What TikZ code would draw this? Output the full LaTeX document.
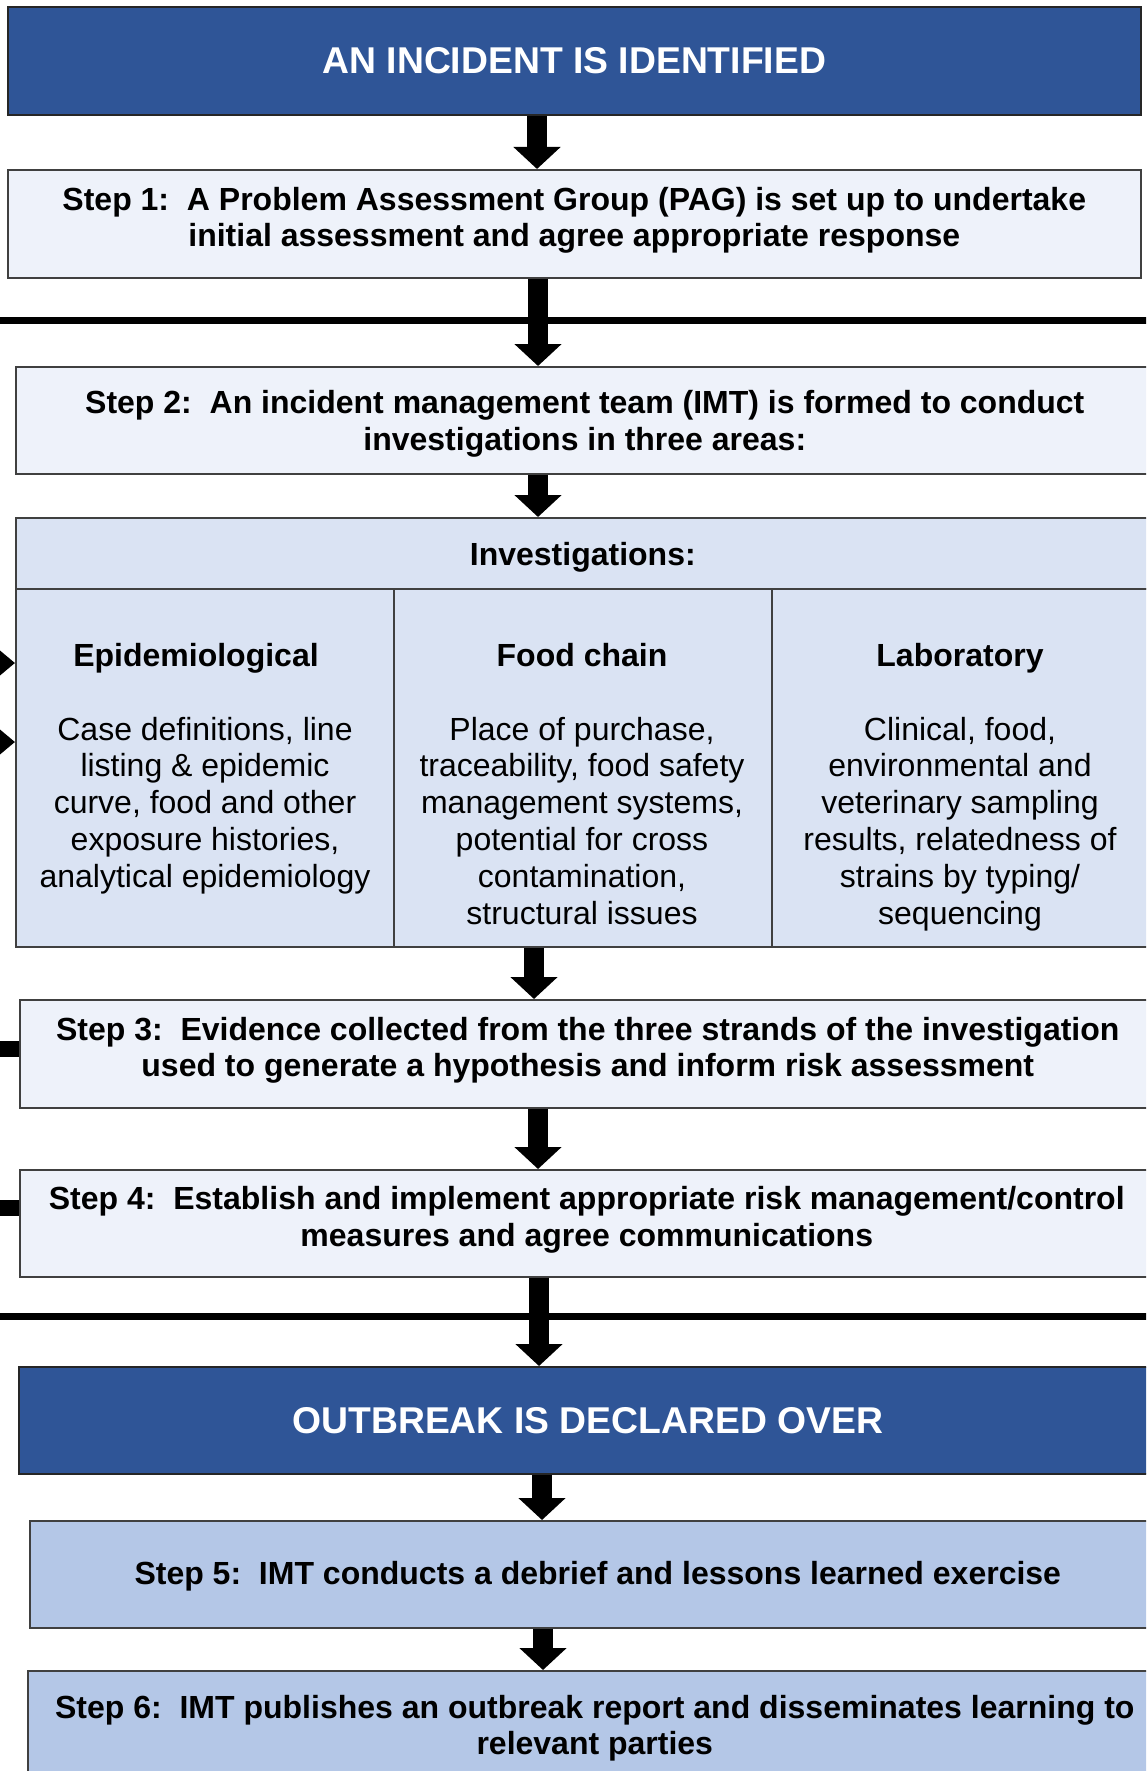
\documentclass[tikz,border=0pt]{standalone}
\usepackage{fontspec}
\setmainfont{Liberation Sans}
\usetikzlibrary{arrows.meta}
\definecolor{dkblue}{HTML}{2F5597}
\definecolor{pale}{HTML}{EEF2FA}
\definecolor{invfill}{HTML}{DAE3F3}
\definecolor{midblue}{HTML}{B4C7E7}
\definecolor{edge}{HTML}{404040}
\begin{document}
\begin{tikzpicture}[x=1pt,y=-1pt,
  box/.style={draw=edge, line width=1.6pt, rectangle, anchor=north west, inner sep=0pt, align=center},
  headbox/.style={box, fill=dkblue, draw=black!85, text=white, font=\fontsize{37.3}{42}\selectfont\bfseries},
  stepbox/.style={box, fill=pale},
  invbox/.style={box, fill=invfill},
  endbox/.style={box, fill=midblue},
  steptext/.style={inner sep=0pt, align=center, font=\fontsize{32}{36.5}\selectfont\bfseries},
  coltitle/.style={anchor=base, inner sep=0pt, font=\fontsize{32}{36.8}\selectfont\bfseries},
  colbody/.style={anchor=base, inner sep=0pt, align=center, font=\fontsize{32}{36.8}\selectfont},
  bigarrow/.style={line width=20pt, -{Triangle[width=46pt,length=22pt]}},
  sidearrow/.style={line width=12pt, -{Triangle[width=32pt,length=20pt]}},
  hbar/.style={line width=7pt},
  stub/.style={line width=16pt}
]
\useasboundingbox (0,0) rectangle (1146,1771);
\clip (0,0) rectangle (1146,1771);
\fill[white] (0,0) rectangle (1146,1771);

% horizontal bars
\coordinate (b1a) at (-5,320); \coordinate (b1b) at (1151,320);
\coordinate (b2a) at (-5,1316); \coordinate (b2b) at (1151,1316);
\draw[hbar] (b1a) -- (b1b);
\draw[hbar] (b2a) -- (b2b);

% boxes
\node[headbox, minimum width=1133pt, minimum height=108pt] (top) at (7,6) {AN INCIDENT IS IDENTIFIED};
\node[stepbox, minimum width=1133pt, minimum height=108pt] (s1) at (7,169) {};
\node[stepbox, minimum width=1138pt, minimum height=107pt] (s2) at (15,366) {};
\node[invbox, minimum width=1134pt, minimum height=71pt] (inv) at (15,517) {};
\node[invbox, minimum width=378pt, minimum height=358pt] (epi) at (15,588) {};
\node[invbox, minimum width=378pt, minimum height=358pt] (food) at (393,588) {};
\node[invbox, minimum width=378pt, minimum height=358pt] (lab) at (771,588) {};
\node[stepbox, minimum width=1136pt, minimum height=108pt] (s3) at (19,999) {};
\node[stepbox, minimum width=1134pt, minimum height=107pt] (s4) at (19,1169) {};
\node[headbox, minimum width=1138pt, minimum height=107pt] (out) at (18,1366) {OUTBREAK IS DECLARED OVER};
\node[endbox, minimum width=1136pt, minimum height=107pt] (s5) at (29,1520) {};
\node[endbox, minimum width=1134pt, minimum height=108pt] (s6) at (27,1670) {};

% step texts
\node[steptext, yshift=3.4pt] (s1t) at (s1.center)
  {Step 1:\ \ A Problem Assessment Group (PAG) is set up to undertake\\initial assessment and agree appropriate response};
\node[steptext, yshift=-3.4pt] (s2t) at (s2.center)
  {Step 2:\ \ An incident management team (IMT) is formed to conduct\\investigations in three areas:};
\node[steptext, yshift=-4pt] (invt) at (inv.center) {Investigations:};
\node[steptext, yshift=3.4pt] (s3t) at (s3.center)
  {Step 3:\ \ Evidence collected from the three strands of the investigation\\used to generate a hypothesis and inform risk assessment};
\node[steptext, yshift=3.4pt] (s4t) at (s4.center)
  {Step 4:\ \ Establish and implement appropriate risk management/control\\measures and agree communications};
\node[steptext, yshift=-2.3pt] (s5t) at (s5.center)
  {Step 5:\ \ IMT conducts a debrief and lessons learned exercise};
\node[steptext, yshift=-3.4pt] (s6t) at (s6.center)
  {Step 6:\ \ IMT publishes an outbreak report and disseminates learning to\\relevant parties};

% column texts
\node[coltitle] (epiT) at (196,666) {Epidemiological};
\node[coltitle] (foodT) at (582,666) {Food chain};
\node[coltitle] (labT) at (960,666) {Laboratory};
\node[colbody] (epiB) at (205,887.2) {Case definitions, line\\listing \& epidemic\\curve, food and other\\exposure histories,\\analytical epidemiology};
\node[colbody] (foodB) at (582,924) {Place of purchase,\\traceability, food safety\\management systems,\\potential for cross\\contamination,\\structural issues};
\node[colbody] (labB) at (960,924) {Clinical, food,\\environmental and\\veterinary sampling\\results, relatedness of\\strains by typing/\\sequencing};

% arrow x positions
\coordinate (x1) at (537,0);
\coordinate (x2) at (538,0);
\coordinate (x3) at (538,0);
\coordinate (x4) at (534,0);
\coordinate (x5) at (538,0);
\coordinate (x6) at (539,0);
\coordinate (x7) at (542,0);
\coordinate (x8) at (543,0);

\draw[bigarrow] (top.south -| x1) -- (s1.north -| x1);
\draw[bigarrow] (s1.south -| x2) -- (s2.north -| x2);
\draw[bigarrow] (s2.south -| x3) -- (inv.north -| x3);
\draw[bigarrow] (food.south -| x4) -- (s3.north -| x4);
\draw[bigarrow] (s3.south -| x5) -- (s4.north -| x5);
\draw[bigarrow] (s4.south -| x6) -- (out.north -| x6);
\draw[bigarrow] (out.south -| x7) -- (s5.north -| x7);
\draw[bigarrow] (s5.south -| x8) -- (s6.north -| x8);

% incoming side arrows and stubs at the left edge
\coordinate (la1) at (-40,663);
\coordinate (la2) at (-40,742);
\draw[sidearrow] (la1) -- (epi.west |- la1);
\draw[sidearrow] (la2) -- (epi.west |- la2);
\coordinate (st1) at (-20,1049);
\coordinate (st2) at (-20,1208);
\draw[stub] (st1) -- (s3.west |- st1);
\draw[stub] (st2) -- (s4.west |- st2);
\end{tikzpicture}
\end{document}
